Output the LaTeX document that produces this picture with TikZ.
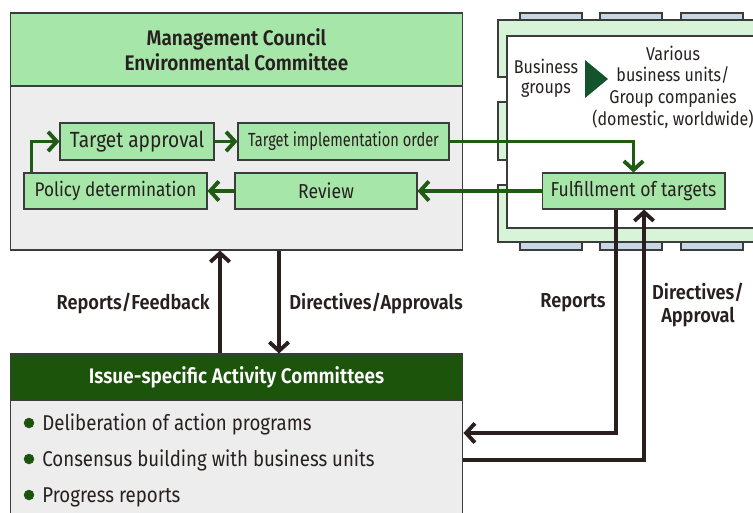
\documentclass[tikz,border=0pt]{standalone}
\usepackage{fontspec}
\setmainfont{Fira Sans}[FakeStretch=0.9]
\IfFontExistsTF{Fira Sans Book}{\newfontfamily\midfont{Fira Sans Book}[FakeStretch=0.87]}{\newfontfamily\midfont{Fira Sans}[FakeStretch=0.87]}
\IfFontExistsTF{Fira Sans SemiBold}{\newfontfamily\headfont{Fira Sans SemiBold}[FakeStretch=0.9]}{\newfontfamily\headfont{Fira Sans}[FakeStretch=0.9]}
\IfFontExistsTF{Fira Sans Book}{\newfontfamily\narrowfont{Fira Sans Book}[FakeStretch=0.77]}{\newfontfamily\narrowfont{Fira Sans}[FakeStretch=0.77]}
\usetikzlibrary{arrows.meta,positioning}

\definecolor{headgreen}{RGB}{166,230,168}
\definecolor{boxgreen}{RGB}{166,230,168}
\definecolor{bodygrey}{RGB}{237,237,237}
\definecolor{framegreen}{RGB}{216,244,216}
\definecolor{tabblue}{RGB}{200,215,228}
\definecolor{boxline}{RGB}{60,60,60}
\definecolor{arrowgreen}{RGB}{30,92,18}
\definecolor{arrowdark}{RGB}{42,30,30}
\definecolor{issuegreen}{RGB}{28,84,12}
\definecolor{trigreen}{RGB}{20,84,44}
\definecolor{inkc}{RGB}{40,32,32}

\tikzset{
  stepbox/.style={draw=boxline, fill=boxgreen, line width=0.6pt, inner sep=0pt, text=inkc, font=\midfont\fontsize{11}{12}\selectfont},
  greenarrow/.style={draw=arrowgreen, line width=2.2pt, -{Straight Barb[length=5pt,width=11pt]}},
  darkarrow/.style={draw=arrowdark, line width=2.2pt, -{Straight Barb[length=5pt,width=11pt]}},
  flowlabel/.style={text=inkc, font=\headfont\fontsize{11.5}{13.5}\selectfont, align=center, inner sep=0pt},
}

\begin{document}
\begin{tikzpicture}[x=0.02cm, y=-0.02cm]
    \useasboundingbox (0,0) rectangle (753,513);
    \clip (0,0) rectangle (753,513);
    % business groups frame
    \foreach \x in {520,600,681} {
        \draw[fill=tabblue, draw=boxline, line width=0.6pt] (\x,13) rectangle ++(62,8);
        \draw[fill=tabblue, draw=boxline, line width=0.6pt] (\x,241) rectangle ++(62,9);
    }
    \draw[fill=framegreen, draw=boxline, line width=0.6pt] (770,20) -- (498,20) -- (498,77) -- (507,77) -- (507,102) -- (498,102) -- (498,160) -- (507,160) -- (507,185) -- (498,185) -- (498,242) -- (770,242);
    \draw[fill=white, draw=boxline, line width=0.6pt] (507,36) rectangle (770,228);
    \node[text=inkc, align=center, font=\midfont\fontsize{10.5}{11.4}\selectfont] (bizgroups) at (546,78) {Business\\groups};
    \fill[trigreen] (585,60) -- (608,79) -- (585,98) -- cycle;
    \node[text=inkc, align=center, font=\midfont\fontsize{10.5}{12.3}\selectfont] (units) at (673,87) {Various\\business units/\\Group companies\\(domestic, worldwide)};
    \node[stepbox, minimum width=3.66cm, minimum height=0.72cm, font=\midfont\fontsize{11.5}{13}\selectfont] (fulfil) at (633.5,191) {Fulfillment of targets};

    % management council
    \node[draw=boxline, fill=bodygrey, line width=0.6pt, minimum width=9.06cm, minimum height=4.74cm, inner sep=0pt] (council) at (236.5,131.5) {};
    \node[draw=boxline, fill=headgreen, line width=0.6pt, minimum width=9.06cm, minimum height=1.46cm, anchor=north, align=center, text=inkc, font=\headfont\fontsize{12}{14.2}\selectfont] (councilhead) at (council.north) {Management Council\\Environmental Committee};
    \node[stepbox, minimum width=3.08cm, minimum height=0.74cm, font=\midfont\fontsize{12.5}{13}\selectfont] (approval) at (137,141.5) {Target approval};
    \node[stepbox, minimum width=4.22cm, minimum height=0.74cm, font=\narrowfont\fontsize{10.8}{12}\selectfont] (implement) at (343.5,141.5) {Target implementation order};
    \node[stepbox, minimum width=3.66cm, minimum height=0.72cm, font=\midfont\fontsize{11.2}{13}\selectfont] (policy) at (115.5,191) {Policy determination};
    \node[stepbox, minimum width=3.64cm, minimum height=0.72cm, font=\midfont\fontsize{11.5}{13}\selectfont] (review) at (326,191) {Review};

    \draw[greenarrow] ([xshift=0.16cm]policy.north west) |- (approval.west);
    \draw[greenarrow] (approval.east) -- (implement.west);
    \draw[greenarrow] (implement.east) -| (fulfil.north);
    \draw[greenarrow] (fulfil.west) -- (review.east);
    \draw[greenarrow] (review.west) -- (policy.east);

    % issue-specific committees
    \node[draw=boxline, fill=bodygrey, line width=0.6pt, minimum width=9.06cm, minimum height=3.6cm, inner sep=0pt] (issue) at (236.5,444) {};
    \node[draw=boxline, fill=issuegreen, line width=0.6pt, minimum width=9.06cm, minimum height=0.92cm, anchor=north, text=white, font=\headfont\fontsize{12}{13}\selectfont] (issuehead) at (issue.north) {Issue-specific Activity Committees};
    \foreach \txt [count=\i] in {Deliberation of action programs, Consensus building with business units, Progress reports} {
        \fill[issuegreen] (29,387+36*\i) circle [radius=0.105cm];
        \node[anchor=base west, inner sep=0pt, text=inkc, font=\midfont\fontsize{12.2}{13}\selectfont] (item\i) at (42,394+36*\i) {\txt};
    }

    \draw[darkarrow] (issue.north -| 220,0) -- (council.south -| 220,0);
    \draw[darkarrow] (council.south -| 279,0) -- (issue.north -| 279,0);
    \draw[darkarrow] (fulfil.south -| 616,0) |- (issue.east |- 0,433);
    \draw[darkarrow] (issue.east |- 0,460) -| (fulfil.south -| 644,0);

    \node[flowlabel, anchor=east] (feedback) at (210,303) {Reports/Feedback};
    \node[flowlabel, anchor=west] (approvals) at (289,303) {Directives/Approvals};
    \node[flowlabel] (reports) at (573,303) {Reports};
    \node[flowlabel] (directives) at (698,305) {Directives/\\Approval};
\end{tikzpicture}
\end{document}
